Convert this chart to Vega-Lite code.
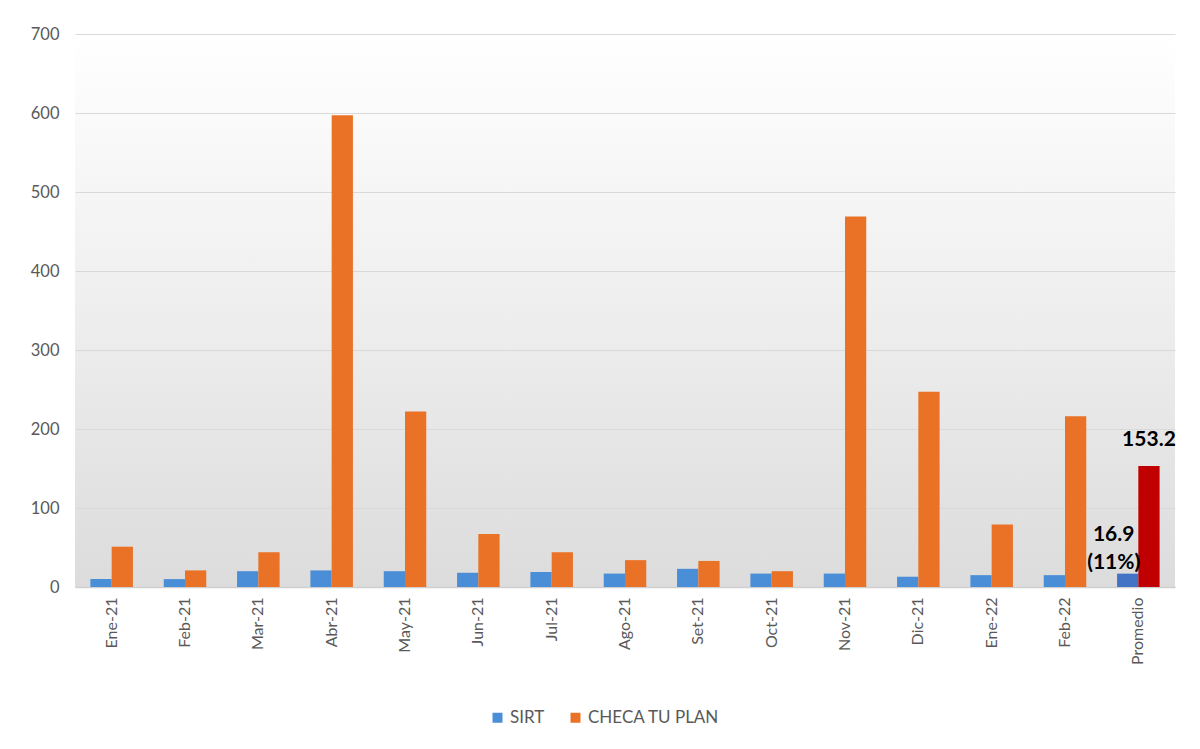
{
  "$schema": "https://vega.github.io/schema/vega-lite/v6.json",
  "width": 1100,
  "height": 553,
  "autosize": {"type": "none"},
  "padding": {"left": 75, "top": 34, "right": 25, "bottom": 162},
  "background": "#ffffff",
  "config": {
    "font": "Lato",
    "view": {"stroke": null, "fill": {"gradient": "linear", "x1": 0, "y1": 0, "x2": 0, "y2": 1, "stops": [{"offset": 0, "color": "#ffffff"}, {"offset": 0.45, "color": "#f0f0f0"}, {"offset": 1, "color": "#dcdcdc"}]}},
    "text": {"lineBreak": "\n"}
  },
  "data": {
    "values": [
      {"mes": "Ene-21", "serie": "SIRT", "tono": "SIRT", "valor": 10},
      {"mes": "Ene-21", "serie": "CHECA TU PLAN", "tono": "CHECA TU PLAN", "valor": 51},
      {"mes": "Feb-21", "serie": "SIRT", "tono": "SIRT", "valor": 10},
      {"mes": "Feb-21", "serie": "CHECA TU PLAN", "tono": "CHECA TU PLAN", "valor": 21},
      {"mes": "Mar-21", "serie": "SIRT", "tono": "SIRT", "valor": 20},
      {"mes": "Mar-21", "serie": "CHECA TU PLAN", "tono": "CHECA TU PLAN", "valor": 44},
      {"mes": "Abr-21", "serie": "SIRT", "tono": "SIRT", "valor": 21},
      {"mes": "Abr-21", "serie": "CHECA TU PLAN", "tono": "CHECA TU PLAN", "valor": 597},
      {"mes": "May-21", "serie": "SIRT", "tono": "SIRT", "valor": 20},
      {"mes": "May-21", "serie": "CHECA TU PLAN", "tono": "CHECA TU PLAN", "valor": 222},
      {"mes": "Jun-21", "serie": "SIRT", "tono": "SIRT", "valor": 18},
      {"mes": "Jun-21", "serie": "CHECA TU PLAN", "tono": "CHECA TU PLAN", "valor": 67},
      {"mes": "Jul-21", "serie": "SIRT", "tono": "SIRT", "valor": 19},
      {"mes": "Jul-21", "serie": "CHECA TU PLAN", "tono": "CHECA TU PLAN", "valor": 44},
      {"mes": "Ago-21", "serie": "SIRT", "tono": "SIRT", "valor": 17},
      {"mes": "Ago-21", "serie": "CHECA TU PLAN", "tono": "CHECA TU PLAN", "valor": 34},
      {"mes": "Set-21", "serie": "SIRT", "tono": "SIRT", "valor": 23},
      {"mes": "Set-21", "serie": "CHECA TU PLAN", "tono": "CHECA TU PLAN", "valor": 33},
      {"mes": "Oct-21", "serie": "SIRT", "tono": "SIRT", "valor": 17},
      {"mes": "Oct-21", "serie": "CHECA TU PLAN", "tono": "CHECA TU PLAN", "valor": 20},
      {"mes": "Nov-21", "serie": "SIRT", "tono": "SIRT", "valor": 17},
      {"mes": "Nov-21", "serie": "CHECA TU PLAN", "tono": "CHECA TU PLAN", "valor": 469},
      {"mes": "Dic-21", "serie": "SIRT", "tono": "SIRT", "valor": 13},
      {"mes": "Dic-21", "serie": "CHECA TU PLAN", "tono": "CHECA TU PLAN", "valor": 247},
      {"mes": "Ene-22", "serie": "SIRT", "tono": "SIRT", "valor": 15},
      {"mes": "Ene-22", "serie": "CHECA TU PLAN", "tono": "CHECA TU PLAN", "valor": 79},
      {"mes": "Feb-22", "serie": "SIRT", "tono": "SIRT", "valor": 15},
      {"mes": "Feb-22", "serie": "CHECA TU PLAN", "tono": "CHECA TU PLAN", "valor": 216},
      {"mes": "Promedio", "serie": "SIRT", "tono": "SIRT promedio", "valor": 16.9, "etiqueta": "16.9\n(11%)"},
      {"mes": "Promedio", "serie": "CHECA TU PLAN", "tono": "CHECA promedio", "valor": 153.2, "etiqueta": "153.2"}
    ]
  },
  "encoding": {
    "x": {
      "field": "mes", "type": "nominal", "sort": null,
      "scale": {"paddingInner": 0.42, "paddingOuter": 0.21},
      "axis": {"title": null, "labelAngle": -90, "labelFontSize": 16, "labelColor": "#595959", "labelPadding": 10, "ticks": false, "domainColor": "#d0d0d0", "domainWidth": 1.5}
    },
    "xOffset": {"field": "serie", "type": "nominal", "sort": ["SIRT", "CHECA TU PLAN"]},
    "y": {
      "field": "valor", "type": "quantitative",
      "scale": {"domain": [0, 700]},
      "axis": {"title": null, "values": [0, 100, 200, 300, 400, 500, 600, 700], "labelFontSize": 16.5, "labelColor": "#595959", "labelPadding": 16, "ticks": false, "domain": false, "gridColor": "#d9d9d9", "gridWidth": 1.2}
    }
  },
  "layer": [
    {
      "mark": {"type": "bar"},
      "encoding": {
        "color": {
          "field": "tono", "type": "nominal",
          "scale": {"domain": ["SIRT", "CHECA TU PLAN", "SIRT promedio", "CHECA promedio"], "range": ["#4a8ed8", "#ea7226", "#4472c4", "#c00000"]},
          "legend": {"title": null, "values": ["SIRT", "CHECA TU PLAN"], "orient": "none", "legendX": 414, "legendY": 675, "direction": "horizontal", "symbolType": "square", "symbolSize": 100, "labelFontSize": 17, "labelColor": "#595959", "columnPadding": 22, "symbolStrokeWidth": 0}
        }
      }
    },
    {
      "transform": [{"filter": "datum.mes === 'Promedio' && datum.serie === 'CHECA TU PLAN'"}],
      "mark": {"type": "text", "fontSize": 21, "fontWeight": "bold", "color": "#000000", "baseline": "bottom", "dy": -16},
      "encoding": {"text": {"field": "etiqueta"}}
    },
    {
      "transform": [{"filter": "datum.mes === 'Promedio' && datum.serie === 'SIRT'"}],
      "mark": {"type": "text", "fontSize": 21, "fontWeight": "bold", "color": "#000000", "baseline": "bottom", "dy": -29, "dx": -14, "lineHeight": 28},
      "encoding": {"text": {"field": "etiqueta"}}
    }
  ]
}
